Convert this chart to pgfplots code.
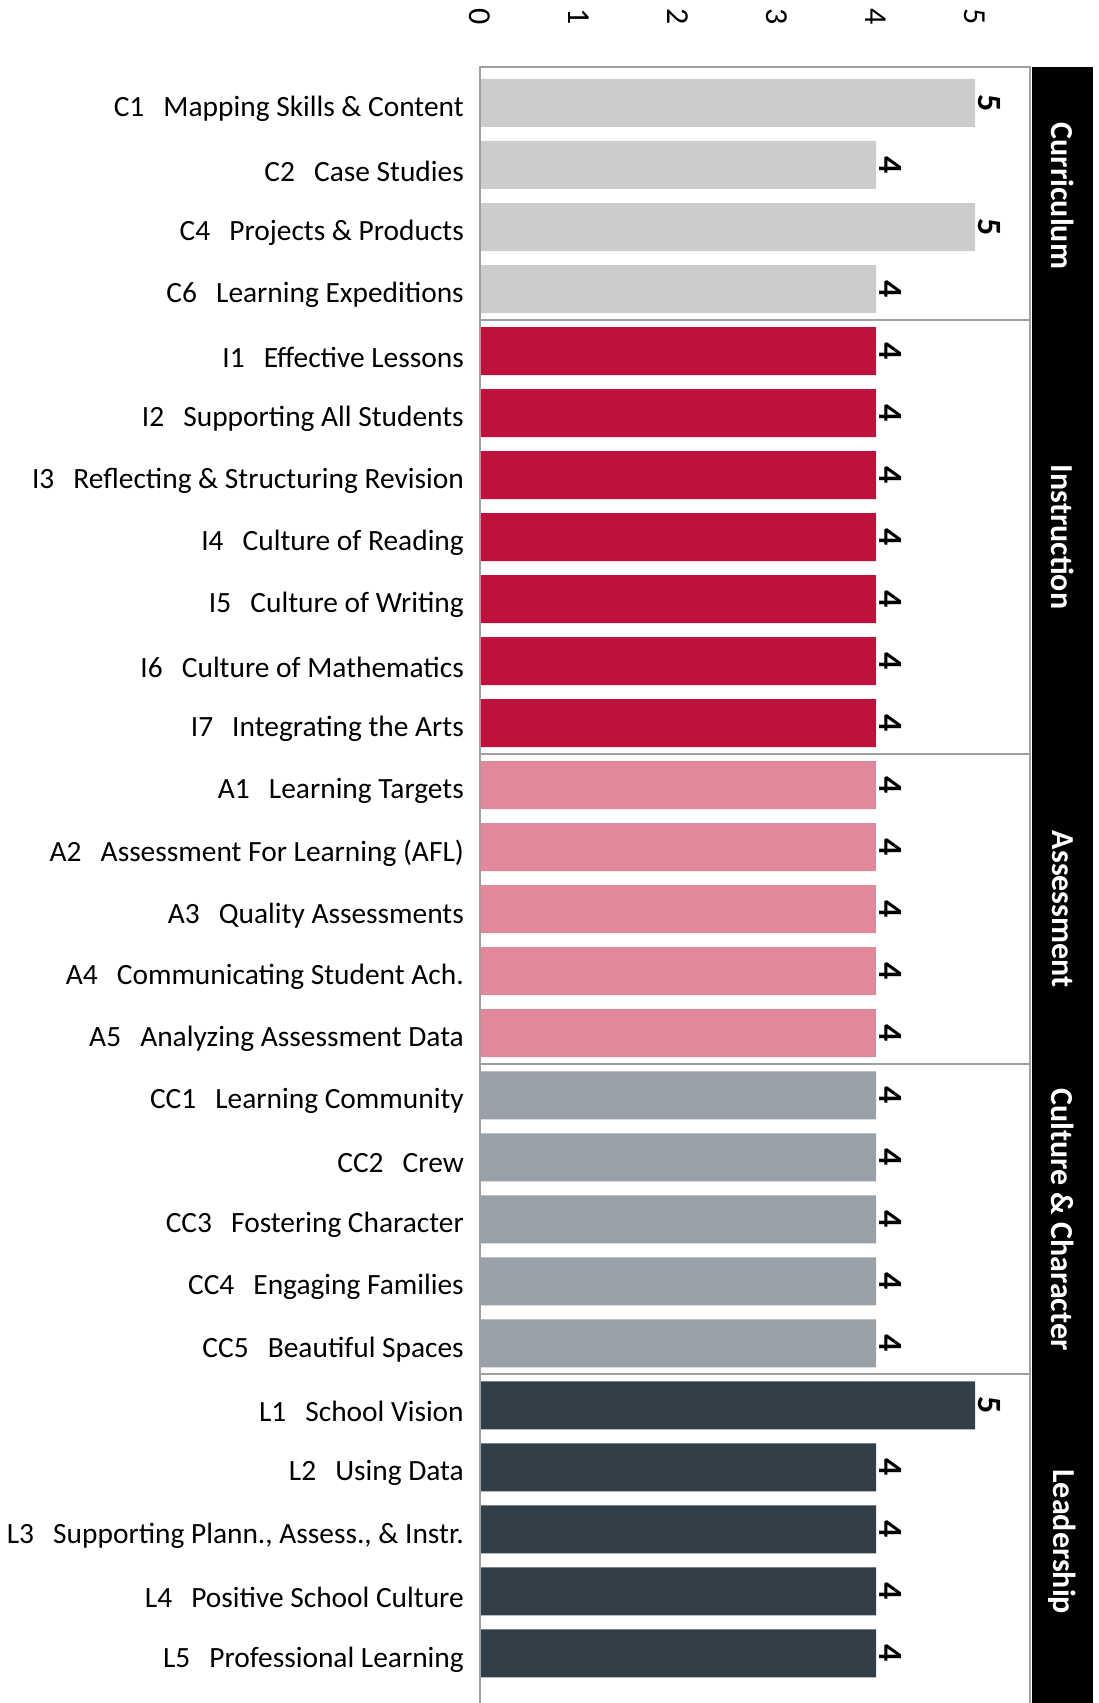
\documentclass[border=0pt]{standalone}
\usepackage{pgfplots}
\pgfplotsset{compat=1.18}
\usepackage{fontspec}
\setmainfont{Carlito}
\definecolor{cur}{HTML}{CCCCCC}
\definecolor{ins}{HTML}{BE123C}
\definecolor{ass}{HTML}{E1889B}
\definecolor{cc}{HTML}{99A0A8}
\definecolor{lead}{HTML}{323E48}
\definecolor{framegray}{HTML}{A0A0A0}
\newcommand{\lb}[2]{#1\hspace{0.65em}#2}
\begin{document}
\begin{tikzpicture}
\begin{axis}[
 at={(480pt,0pt)}, anchor=south west,
 scale only axis, width=549.5pt, height=1636pt,
 xmin=0, xmax=5.55, ymin=0.42, ymax=26.8, y dir=reverse,
 axis line style={draw=none},
 major tick length=0pt,
 xtick={0,1,2,3,4,5}, xticklabel pos=upper,
 xticklabel style={rotate=-90, anchor=center, font=\fontsize{32}{34}\selectfont},
 xticklabel shift=50pt,
 ytick={1,...,26},
 yticklabels={
  {\lb{C1}{Mapping Skills \& Content}},
  {\lb{C2}{Case Studies}},
  {\lb{C4}{Projects \& Products}},
  {\lb{C6}{Learning Expeditions}},
  {\lb{I1}{Effective Lessons}},
  {\lb{I2}{Supporting All Students}},
  {\lb{I3}{Reflecting \& Structuring Revision}},
  {\lb{I4}{Culture of Reading}},
  {\lb{I5}{Culture of Writing}},
  {\lb{I6}{Culture of Mathematics}},
  {\lb{I7}{Integrating the Arts}},
  {\lb{A1}{Learning Targets}},
  {\lb{A2}{Assessment For Learning (AFL)}},
  {\lb{A3}{Quality Assessments}},
  {\lb{A4}{Communicating Student Ach.}},
  {\lb{A5}{Analyzing Assessment Data}},
  {\lb{CC1}{Learning Community}},
  {\lb{CC2}{Crew}},
  {\lb{CC3}{Fostering Character}},
  {\lb{CC4}{Engaging Families}},
  {\lb{CC5}{Beautiful Spaces}},
  {\lb{L1}{School Vision}},
  {\lb{L2}{Using Data}},
  {\lb{L3}{Supporting Plann., Assess., \& Instr.}},
  {\lb{L4}{Positive School Culture}},
  {\lb{L5}{Professional Learning}}},
 yticklabel style={anchor=east, inner sep=0pt, yshift=-6pt, font=\fontsize{29.4}{31}\selectfont},
 yticklabel shift=16pt,
 /pgf/number format/assume math mode=true,
 clip=false,
 every axis plot/.append style={xbar, bar width=48pt, bar shift=0pt, draw=none, point meta=x,
   nodes near coords,
   every node near coord/.append style={rotate=-90, anchor=south, inner sep=3pt,
     font=\bfseries\fontsize{34}{36}\selectfont, text=black}},
]
\addplot[fill=cur] coordinates {(5,1) (4,2) (5,3) (4,4)};
\addplot[fill=ins] coordinates {(4,5) (4,6) (4,7) (4,8) (4,9) (4,10) (4,11)};
\addplot[fill=ass] coordinates {(4,12) (4,13) (4,14) (4,15) (4,16)};
\addplot[fill=cc] coordinates {(4,17) (4,18) (4,19) (4,20) (4,21)};
\addplot[fill=lead] coordinates {(5,22) (4,23) (4,24) (4,25) (4,26)};
\draw[framegray, line width=2pt] (axis cs:0,26.8) -- (axis cs:0,0.42) -- (axis cs:5.55,0.42) -- (axis cs:5.55,26.8);
\draw[framegray, line width=2pt] (axis cs:0,4.5) -- (axis cs:5.55,4.5);
\draw[framegray, line width=2pt] (axis cs:0,11.5) -- (axis cs:5.55,11.5);
\draw[framegray, line width=2pt] (axis cs:0,16.5) -- (axis cs:5.55,16.5);
\draw[framegray, line width=2pt] (axis cs:0,21.5) -- (axis cs:5.55,21.5);
\fill[black] (axis cs:5.576,0.42) rectangle (axis cs:6.19,26.9);
\begin{scope}[every node/.style={rotate=-90, text=white, font=\bfseries\fontsize{32}{34}\selectfont}]
\node at (axis cs:5.885,2.5) {Curriculum};
\node at (axis cs:5.885,8) {Instruction};
\node at (axis cs:5.885,14) {Assessment};
\node at (axis cs:5.885,19) {Culture \& Character};
\node at (axis cs:5.885,24.2) {Leadership};
\end{scope}
\end{axis}
\pgfresetboundingbox
\path[use as bounding box] (0,0) rectangle (1098pt,1703pt);
\end{tikzpicture}
\end{document}
